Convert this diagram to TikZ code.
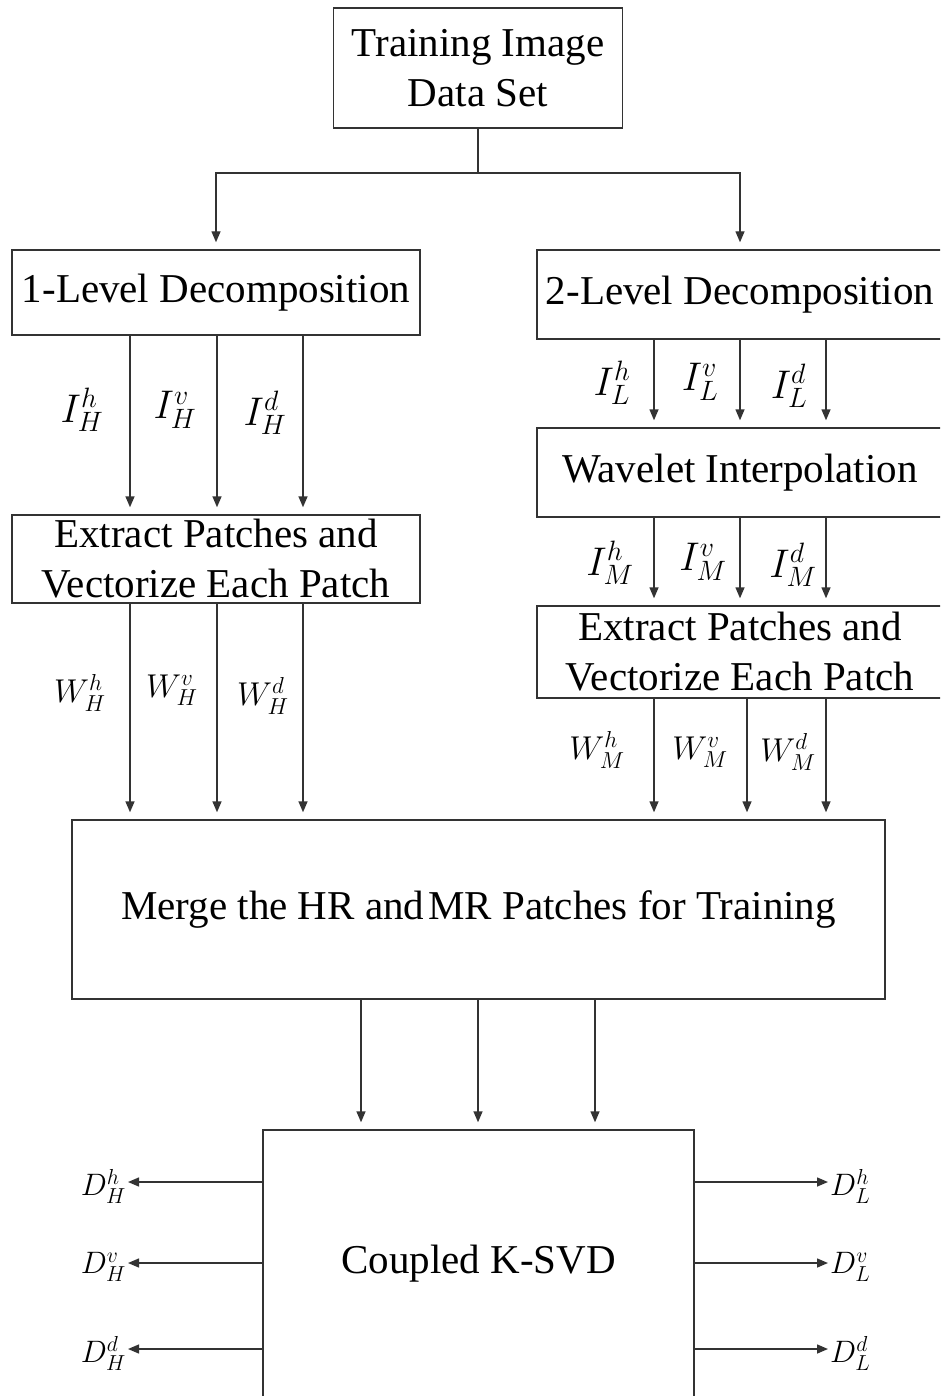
\documentclass[tikz,border=0pt]{standalone}
\usepackage{fix-cm}
\usepackage{fontspec}
\setmainfont{Liberation Serif}
\usetikzlibrary{arrows.meta}

\begin{document}
\begin{tikzpicture}[x=1pt,y=-1pt,
  box/.style={draw=black!80, line width=1.4pt, inner sep=0pt, align=center,
              font=\fontsize{41}{50}\selectfont},
  link/.style={draw=black!80, line width=1.4pt},
  flow/.style={link, -{Triangle[length=11pt,width=9pt]}, shorten >=7pt},
  ilbl/.style={inner sep=0pt, font=\fontsize{40}{40}\selectfont},
  wlbl/.style={inner sep=0pt, font=\fontsize{33}{33}\selectfont},
  dlbl/.style={inner sep=0pt, font=\fontsize{31}{31}\selectfont}]
\useasboundingbox (0,0) rectangle (940,1396);
\clip (0,0) rectangle (940,1396);

% blocks
\node[box, minimum width=289pt, minimum height=120pt] (data) at (478,68) {Training Image\\Data Set};
\node[box, minimum width=408pt, minimum height=85pt] (l1) at (216,292.5) {\raisebox{-3pt}{1-Level Decomposition}};
\node[box, minimum width=408pt, minimum height=88pt] (l2) at (216,559) {Extract Patches and\\Vectorize Each Patch};
\node[box, minimum width=406pt, minimum height=89pt] (r1) at (740,294.5) {\raisebox{-3pt}{2-Level Decomposition}};
\node[box, minimum width=406pt, minimum height=89pt] (r2) at (740,472.5) {Wavelet Interpolation};
\node[box, minimum width=406pt, minimum height=92pt] (r3) at (740,652) {Extract Patches and\\Vectorize Each Patch};
\node[box, minimum width=813pt, minimum height=179pt] (merge) at (478.5,909.5) {\raisebox{-4pt}{Merge the HR and\hspace{-0.15em} MR Patches for Training}};
\node[box, minimum width=431pt, minimum height=268pt] (ksvd) at (478.5,1264) {\raisebox{-3pt}{Coupled K-SVD}};

% column positions of the parallel connectors
\coordinate (xa) at (130,0);
\coordinate (xb) at (217,0);
\coordinate (xc) at (303,0);
\coordinate (xd) at (654,0);
\coordinate (xe) at (740,0);
\coordinate (xf) at (826,0);
\coordinate (xg) at (747,0);
\coordinate (xh) at (361,0);
\coordinate (xi) at (478,0);
\coordinate (xj) at (595,0);

% split from the data set
\coordinate (split) at (478,173);
\draw[link] (data.south) -- (split);
\draw[flow] (split) -| (l1.north);
\draw[flow] (split) -| (r1.north);

% left branch
\foreach \c in {xa,xb,xc}{
  \draw[flow] (l1.south -| \c) -- (l2.north -| \c);
  \draw[flow] (l2.south -| \c) -- (merge.north -| \c);
}
% right branch
\foreach \c in {xd,xe,xf}{
  \draw[flow] (r1.south -| \c) -- (r2.north -| \c);
  \draw[flow] (r2.south -| \c) -- (r3.north -| \c);
}
\foreach \c in {xd,xg,xf}{
  \draw[flow] (r3.south -| \c) -- (merge.north -| \c);
}
% merge to K-SVD
\foreach \c in {xh,xi,xj}{
  \draw[flow] (merge.south -| \c) -- (ksvd.north -| \c);
}

% subband labels
\node[ilbl] at (82,410) {$I_H^h$};
\node[ilbl] at (175,410) {$I_H^v$};
\node[ilbl] at (265,413) {$I_H^d$};
\node[wlbl] at (80,693) {$W_H^h$};
\node[wlbl] at (172,690) {$W_H^v$};
\node[wlbl] at (263,696) {$W_H^d$};
\node[ilbl] at (612,383) {$I_L^h$};
\node[ilbl] at (700,382) {$I_L^v$};
\node[ilbl] at (789,386) {$I_L^d$};
\node[ilbl] at (610,563) {$I_M^h$};
\node[ilbl] at (703,562) {$I_M^v$};
\node[ilbl] at (793,565) {$I_M^d$};
\node[wlbl] at (597,750) {$W_M^h$};
\node[wlbl] at (700,752) {$W_M^v$};
\node[wlbl] at (788,752) {$W_M^d$};

% learned dictionaries
\node[dlbl, anchor=east] (dhh) at (126,1186) {$D_H^h$};
\node[dlbl, anchor=east] (dhv) at (126,1267) {$D_H^v$};
\node[dlbl, anchor=east] (dhd) at (126,1353) {$D_H^d$};
\node[dlbl, anchor=west] (dlh) at (830,1186) {$D_L^h$};
\node[dlbl, anchor=west] (dlv) at (830,1267) {$D_L^v$};
\node[dlbl, anchor=west] (dld) at (830,1353) {$D_L^d$};
\draw[flow, shorten >=2pt] (ksvd.west |- 0,1182) -- (dhh.east |- 0,1182);
\draw[flow, shorten >=2pt] (ksvd.west |- 0,1263) -- (dhv.east |- 0,1263);
\draw[flow, shorten >=2pt] (ksvd.west |- 0,1349) -- (dhd.east |- 0,1349);
\draw[flow, shorten >=2pt] (ksvd.east |- 0,1182) -- (dlh.west |- 0,1182);
\draw[flow, shorten >=2pt] (ksvd.east |- 0,1263) -- (dlv.west |- 0,1263);
\draw[flow, shorten >=2pt] (ksvd.east |- 0,1349) -- (dld.west |- 0,1349);
\end{tikzpicture}
\end{document}
